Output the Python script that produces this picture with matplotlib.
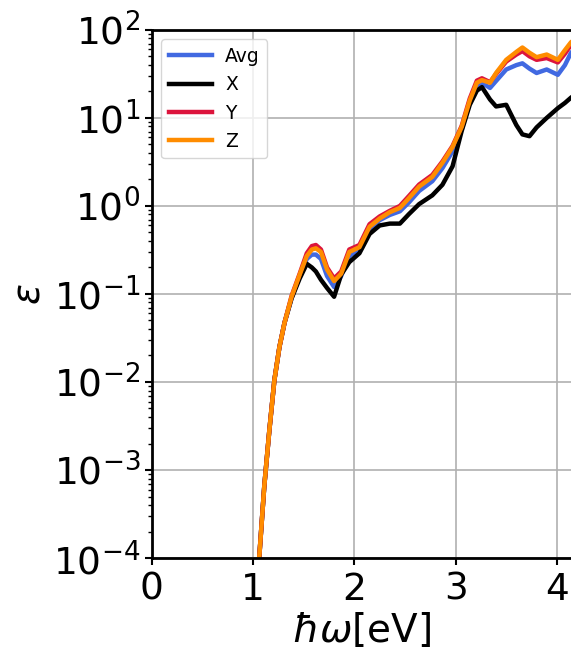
import matplotlib
matplotlib.use('Agg')
from matplotlib import pyplot as plt
from matplotlib.ticker import LogLocator, NullFormatter

#################################
# Data: photon energy (eV) and epsilon for each direction
energy = [1.00, 1.06, 1.11, 1.16, 1.21, 1.26, 1.31, 1.38, 1.46, 1.53,
          1.58, 1.62, 1.67, 1.73, 1.80, 1.87, 1.95, 2.05, 2.15, 2.25,
          2.35, 2.45, 2.54, 2.64, 2.77, 2.87, 2.97, 3.06, 3.14, 3.21,
          3.26, 3.34, 3.40, 3.50, 3.60, 3.66, 3.73, 3.80, 3.90, 4.01,
          4.08, 4.14, 4.25]

eps_avg = [2.5e-5, 1.0e-4, 6.5e-4, 2.8e-3, 1.05e-2, 2.5e-2, 4.7e-2, 9.0e-2, 0.16, 0.25,
           0.28, 0.28, 0.25, 0.16, 0.12, 0.16, 0.27, 0.32, 0.54, 0.69,
           0.79, 0.87, 1.10, 1.48, 1.91, 2.69, 4.17, 7.4, 15.1, 23.4,
           25.1, 21.9, 26.3, 35.5, 39.8, 41.7, 36.3, 32.4, 35.5, 30.9,
           39.8, 55.0, 70.8]

eps_x = [2.5e-5, 1.0e-4, 6.5e-4, 2.8e-3, 1.05e-2, 2.5e-2, 4.7e-2, 8.9e-2, 0.15, 0.22,
         0.20, 0.18, 0.145, 0.117, 0.093, 0.166, 0.23, 0.29, 0.48, 0.60,
         0.63, 0.63, 0.81, 1.05, 1.32, 1.74, 2.82, 7.1, 14.1, 20.4,
         22.4, 16.2, 13.5, 14.1, 8.3, 6.5, 6.2, 7.8, 10.0, 12.9,
         14.8, 17.0, 20.9]

eps_y = [2.5e-5, 1.0e-4, 6.5e-4, 2.8e-3, 1.05e-2, 2.5e-2, 4.7e-2, 9.5e-2, 0.17, 0.29,
         0.35, 0.36, 0.32, 0.20, 0.15, 0.18, 0.32, 0.36, 0.62, 0.76,
         0.88, 1.0, 1.3, 1.75, 2.25, 3.2, 4.8, 8.1, 16.6, 26.5,
         28.2, 25.5, 31.6, 43.7, 52.5, 57.5, 50.1, 45.7, 47.9, 42.7,
         53.7, 67.6, 85.0]

eps_z = [2.5e-5, 1.0e-4, 6.5e-4, 2.8e-3, 1.05e-2, 2.5e-2, 4.7e-2, 9.3e-2, 0.166, 0.27,
         0.32, 0.33, 0.30, 0.19, 0.14, 0.17, 0.30, 0.34, 0.58, 0.72,
         0.85, 0.95, 1.23, 1.66, 2.14, 3.09, 4.68, 7.9, 15.8, 25.1,
         26.9, 25.1, 32.4, 45.7, 56.2, 63.1, 55.0, 49.0, 52.5, 45.7,
         58.9, 72.4, 89.0]
#################################

lb_fs = 28
tk_fs = 27
lg_fs = 13.5
lw = 3.2

fig = plt.figure(figsize=(5.71, 6.5), dpi=100)
ax = fig.add_axes([0.266, 0.1415, 0.734, 0.8125])

ax.plot(energy, eps_avg, color='royalblue', lw=lw, label='Avg')
ax.plot(energy, eps_x, color='black', lw=lw, label='X')
ax.plot(energy, eps_y, color='crimson', lw=lw, label='Y')
ax.plot(energy, eps_z, color='darkorange', lw=lw, label='Z')

ax.set_yscale('log')
ax.set_ylim(1e-4, 1e2)
ax.set_xlim(0, 4.14)
ax.set_xticks([0, 1, 2, 3, 4])
ax.yaxis.set_minor_locator(LogLocator(base=10, subs=range(2, 10), numticks=20))
ax.yaxis.set_minor_formatter(NullFormatter())

ax.grid(True, which='major', color='#b0b0b0', lw=1.2)
ax.tick_params(axis='both', which='major', labelsize=tk_fs, width=1.5, length=5)
ax.tick_params(axis='x', which='major', pad=5)
ax.tick_params(axis='y', which='minor', width=1, length=3)
for side in ['left', 'bottom', 'top']:
    ax.spines[side].set_linewidth(2)
ax.spines['right'].set_visible(False)

ax.set_xlabel(r'$\hbar\omega$[eV]', fontsize=lb_fs, labelpad=2)
ax.set_ylabel(r'$\epsilon$', fontsize=lb_fs, labelpad=4)

ax.legend(loc='upper left', fontsize=lg_fs, handlelength=2.3, handletextpad=0.7)

plt.savefig('out.png', dpi=100)
